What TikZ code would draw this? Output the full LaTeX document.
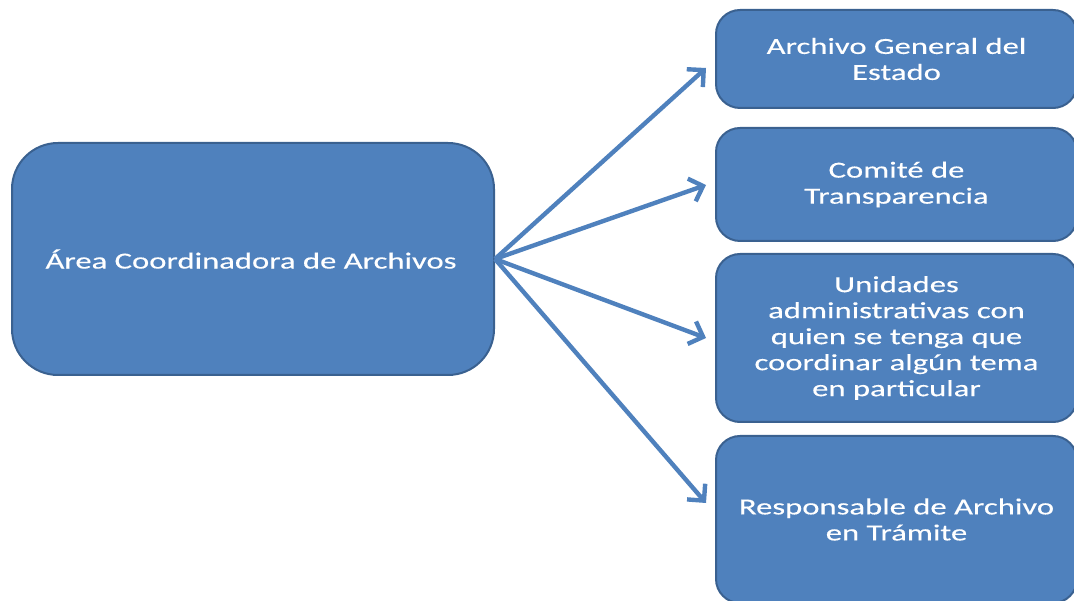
\documentclass[tikz,border=0pt]{standalone}
\usepackage{fontspec}
\setmainfont{Carlito}[FakeStretch=1.42, FakeBold=0.3]
\usetikzlibrary{arrows.meta}
\definecolor{boxfill}{HTML}{4F81BD}
\definecolor{boxline}{HTML}{3A6190}
\tikzset{
  box/.style={draw=boxline, line width=2pt, fill=boxfill, text=white, align=center,
    font=\fontsize{23}{26}\selectfont, inner sep=0pt},
  leftbox/.style={box, rounded corners=46pt, minimum width=482pt, minimum height=232pt},
  rightbox/.style={box, rounded corners=24pt, minimum width=361pt},
  conn/.style={draw=boxfill, line width=4.4pt, -{Straight Barb[length=12pt, width=24pt]}}
}
\begin{document}
\begin{tikzpicture}[x=1pt, y=-1pt]
\useasboundingbox (0,0) rectangle (1074,601);
\clip (0,0) rectangle (1074,601);
\node[leftbox] (L) at (253,259) {\hspace*{-4pt}Área Coordinadora de Archivos};
\node[rightbox, minimum height=98pt] (R1) at (896.5,59) {Archivo General del\\Estado};
\node[rightbox, minimum height=113pt] (R2) at (896.5,184.5) {Comité de\\Transparencia};
\node[rightbox, minimum height=168pt] (R3) at (896.5,338) {Unidades\\administrativas con\\quien se tenga que\\coordinar algún tema\\en particular};
\node[rightbox, minimum height=167pt] (R4) at (896.5,519.5) {Responsable de Archivo\\en Trámite};
\coordinate (t1) at (706,68);
\coordinate (t2) at (706,185);
\coordinate (t3) at (706,338);
\coordinate (t4) at (706,503);
\draw[conn] (L.east) -- (t1);
\draw[conn] (L.east) -- (t2);
\draw[conn] (L.east) -- (t3);
\draw[conn] (L.east) -- (t4);
\end{tikzpicture}
\end{document}
